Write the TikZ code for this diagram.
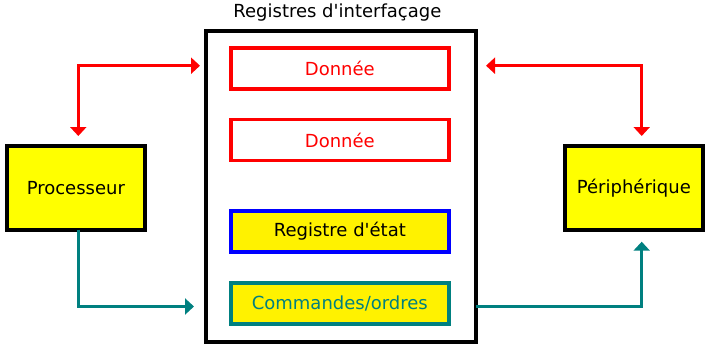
\documentclass[tikz,border=0pt]{standalone}
\usepackage{fontspec}
\setmainfont{DejaVu Sans}[Ligatures=TeXOff]
\usetikzlibrary{arrows.meta}
\definecolor{tealc}{RGB}{0,128,128}
\definecolor{yel}{RGB}{255,255,0}
\definecolor{yeltwo}{RGB}{255,242,0}
\begin{document}
\begin{tikzpicture}[x=1pt,y=-1pt,
  every node/.style={font=\fontsize{18pt}{21pt}\selectfont, inner sep=0pt, outer sep=0pt},
  reg/.style={draw, line width=3.5pt, minimum width=218.2pt, minimum height=41pt},
  unit/.style={draw=black, line width=4pt, fill=yel, minimum width=138pt, minimum height=83.7pt},
  onetip/.style={-{Triangle[length=9pt,width=16pt]}},
  bitip/.style={{Triangle[length=9pt,width=16pt]}-{Triangle[length=9pt,width=16pt]}},
  redl/.style={red, line width=3.5pt},
  teall/.style={tealc, line width=3.5pt}]
\useasboundingbox (0,0) rectangle (709,348);
\node[draw=black, line width=4pt, minimum width=270pt, minimum height=310.5pt] (big) at (341,186.25) {};
\node[anchor=base] (title) at (337.4,17) {Registres d'interfaçage};
\node[reg, draw=red, text=red] (d1) at (339.85,68.4) {Donnée};
\node[reg, draw=red, text=red] (d2) at (339.85,140.2) {Donnée};
\node[reg, draw=blue, fill=yeltwo] (etat) at (339.85,231.5) {Registre d'état};
\node[reg, draw=tealc, fill=yeltwo, text=tealc] (cmd) at (339.85,303.4) {Commandes/ordres};
\node[unit] (proc) at (75.85,187.85) {Processeur};
\node[unit] (per) at (633.85,187.85) {Périphérique};
\path (big.west |- d1.center) ++(0,-2.7) coordinate (lt);
\path (big.east |- d1.center) ++(0,-2.7) coordinate (rt);
\path (big.west |- cmd.center) ++(0,3.1) coordinate (lb);
\path (big.east |- cmd.center) ++(0,3.1) coordinate (rb);
\draw[redl, bitip, shorten <=10pt, shorten >=6pt] ([xshift=2.45pt]proc.north) |- (lt);
\draw[redl, bitip, shorten <=10pt, shorten >=10pt] (rt) -| ([xshift=7.85pt]per.north);
\draw[teall, onetip, shorten >=12pt] ([xshift=2.45pt]proc.south) |- (lb);
\draw[teall, onetip, shorten >=12pt] (rb) -| ([xshift=7.85pt]per.south);
\end{tikzpicture}
\end{document}
